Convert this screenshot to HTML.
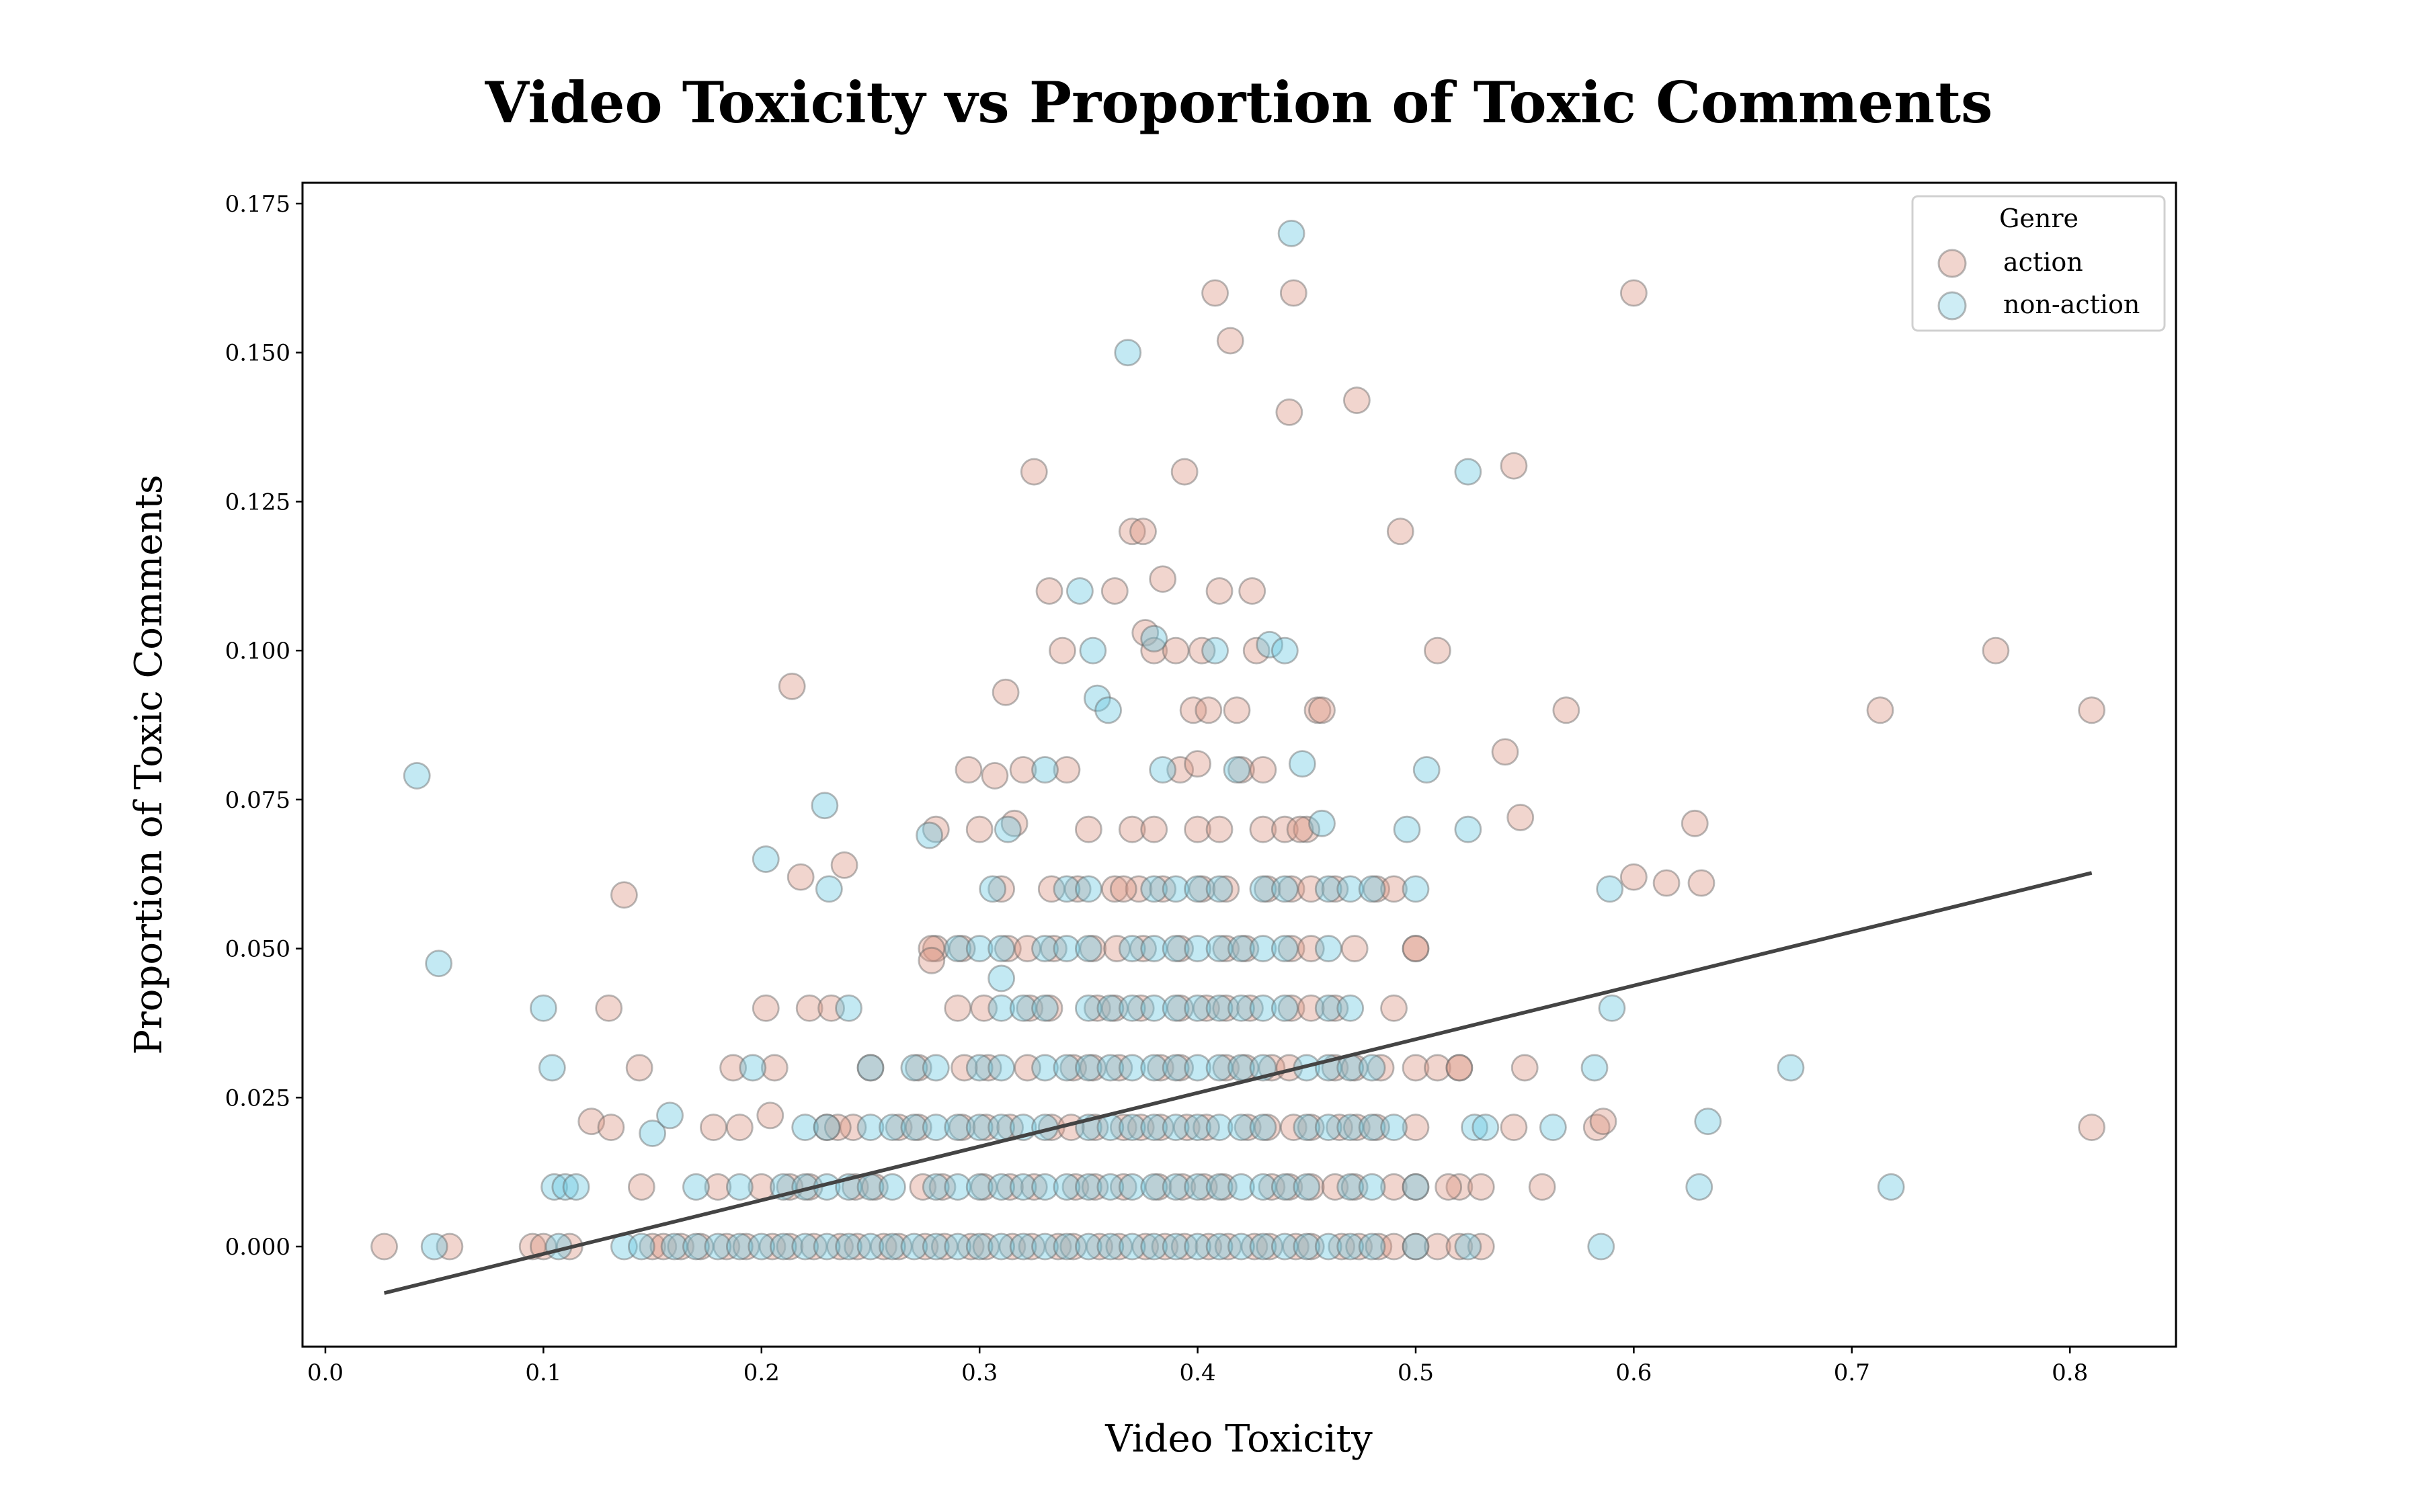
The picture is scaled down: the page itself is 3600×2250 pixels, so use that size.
<!DOCTYPE html>
<html><head><meta charset="utf-8">
<style>
html,body{margin:0;padding:0;background:#fff;}
svg{display:block;font-family:"DejaVu Serif","Liberation Serif",serif;}
</style></head>
<body>
<svg id="chart" width="3600" height="2250" viewBox="0 0 3600 2250" xmlns="http://www.w3.org/2000/svg">
<rect x="0" y="0" width="3600" height="2250" fill="#fff"/>
<text x="1843" y="182" text-anchor="middle" font-size="84" font-weight="bold">Video Toxicity vs Proportion of Toxic Comments</text>
<g id="marks"></g>
<g id="axes"></g>
<text x="1843" y="2160" text-anchor="middle" font-size="56">Video Toxicity</text>
<text transform="translate(240,1138) rotate(-90)" text-anchor="middle" font-size="56">Proportion of Toxic Comments</text>
<g>
<rect x="2845" y="292" width="375" height="200" rx="8" fill="#fff" stroke="#d0d0d0" stroke-width="3"/>
<text x="3033" y="338" text-anchor="middle" font-size="38">Genre</text>
<circle cx="2904" cy="392" r="20" fill="#dd9585" fill-opacity="0.4" stroke="#666" stroke-opacity="0.45" stroke-width="3"/>
<text x="2980" y="403" font-size="38">action</text>
<circle cx="2904" cy="455" r="20" fill="#7fd0e4" fill-opacity="0.38" stroke="#666" stroke-opacity="0.45" stroke-width="3"/>
<text x="2980" y="466" font-size="38">non-action</text>
</g>
</svg>
<script>
const xTicks = [0.0,0.1,0.2,0.3,0.4,0.5,0.6,0.7,0.8];
const xTickLabels = ["0.0","0.1","0.2","0.3","0.4","0.5","0.6","0.7","0.8"];
const yTicks = [0,0.025,0.05,0.075,0.1,0.125,0.15,0.175];
const yTickLabels = ["0.000","0.025","0.050","0.075","0.100","0.125","0.150","0.175"];
const bandLevels = [0,0.01,0.02,0.03,0.04,0.05,0.06,0.07];
const actionBandX = [
 [0.15,0.155,0.163,0.172,0.184,0.193,0.205,0.213,0.224,0.236,0.244,0.256,0.263,0.275,0.284,0.296,0.303,0.315,0.324,0.336,0.343,0.355,0.364,0.376,0.385,0.394,0.405,0.414,0.426,0.433,0.445,0.452,0.466,0.474,0.483,0.49,0.5,0.51,0.52,0.53],
 [0.18,0.2,0.213,0.222,0.243,0.252,0.274,0.283,0.302,0.314,0.325,0.344,0.353,0.366,0.382,0.393,0.403,0.412,0.434,0.442,0.452,0.463,0.472,0.49,0.5,0.52],
 [0.23,0.242,0.263,0.272,0.292,0.303,0.314,0.333,0.342,0.353,0.366,0.374,0.383,0.395,0.404,0.423,0.432,0.444,0.452,0.465,0.473,0.482,0.5],
 [0.25,0.272,0.293,0.304,0.322,0.343,0.352,0.364,0.383,0.392,0.413,0.422,0.434,0.442,0.463,0.472,0.484,0.5,0.51,0.52],
 [0.29,0.302,0.323,0.332,0.354,0.362,0.374,0.392,0.404,0.413,0.424,0.443,0.452,0.463],
 [0.28,0.292,0.313,0.322,0.334,0.352,0.363,0.375,0.392,0.413,0.422,0.443,0.452,0.472,0.5],
 [0.333,0.345,0.362,0.373,0.384,0.402,0.413,0.432,0.443,0.452,0.463,0.482,0.49],
 [0.37,0.38,0.4,0.41,0.43,0.44,0.45]
];
const nonActionBandX = [
 [0.137,0.145,0.16,0.17,0.18,0.19,0.2,0.21,0.22,0.23,0.24,0.25,0.26,0.27,0.28,0.29,0.3,0.31,0.32,0.33,0.34,0.35,0.36,0.37,0.38,0.39,0.4,0.41,0.42,0.43,0.44,0.45,0.46,0.47,0.48,0.5],
 [0.17,0.19,0.21,0.22,0.23,0.24,0.25,0.26,0.28,0.29,0.3,0.31,0.32,0.33,0.34,0.35,0.36,0.37,0.38,0.39,0.4,0.41,0.42,0.43,0.44,0.45,0.47,0.48,0.5],
 [0.22,0.23,0.25,0.26,0.27,0.28,0.29,0.3,0.31,0.32,0.33,0.35,0.36,0.37,0.38,0.39,0.4,0.41,0.42,0.43,0.45,0.46,0.47,0.48,0.49],
 [0.25,0.27,0.28,0.3,0.31,0.33,0.34,0.35,0.36,0.37,0.38,0.39,0.4,0.41,0.42,0.43,0.45,0.46,0.47,0.48],
 [0.31,0.32,0.33,0.35,0.36,0.37,0.38,0.39,0.4,0.41,0.42,0.43,0.44,0.46,0.47],
 [0.29,0.3,0.31,0.33,0.34,0.35,0.37,0.38,0.39,0.4,0.41,0.42,0.43,0.44,0.46],
 [0.34,0.35,0.38,0.39,0.4,0.41,0.43,0.44,0.46,0.47,0.48],
 []
];
const actionX = [0.027,0.057,0.095,0.1,0.112,0.137,0.13,0.122,0.131,0.144,0.145,0.178,0.187,0.19,0.202,0.204,0.206,0.214,0.218,0.222,0.232,0.238,0.235,0.278,0.28,0.278,0.295,0.3,0.307,0.31,0.312,0.316,0.32,0.325,0.332,0.338,0.34,0.35,0.362,0.366,0.37,0.375,0.376,0.38,0.384,0.39,0.392,0.394,0.398,0.4,0.402,0.405,0.408,0.41,0.415,0.418,0.42,0.425,0.427,0.43,0.442,0.444,0.447,0.455,0.457,0.473,0.49,0.493,0.5,0.51,0.52,0.515,0.53,0.541,0.545,0.548,0.55,0.545,0.558,0.569,0.583,0.586,0.6,0.6,0.615,0.628,0.631,0.713,0.766,0.81,0.81];
const actionY = [0,0,0,0,0,0.059,0.04,0.021,0.02,0.03,0.01,0.02,0.03,0.02,0.04,0.022,0.03,0.094,0.062,0.04,0.04,0.064,0.02,0.05,0.07,0.048,0.08,0.07,0.079,0.06,0.093,0.071,0.08,0.13,0.11,0.1,0.08,0.07,0.11,0.06,0.12,0.12,0.103,0.1,0.112,0.1,0.08,0.13,0.09,0.081,0.1,0.09,0.16,0.11,0.152,0.09,0.08,0.11,0.1,0.08,0.14,0.16,0.07,0.09,0.09,0.142,0.04,0.12,0.05,0.1,0.03,0.01,0.01,0.083,0.131,0.072,0.03,0.02,0.01,0.09,0.02,0.021,0.062,0.16,0.061,0.071,0.061,0.09,0.1,0.09,0.02];
const nonActionX = [0.042,0.052,0.05,0.1,0.104,0.105,0.11,0.115,0.107,0.15,0.158,0.202,0.196,0.229,0.231,0.24,0.277,0.306,0.31,0.313,0.33,0.346,0.352,0.354,0.359,0.368,0.38,0.384,0.408,0.418,0.433,0.44,0.443,0.448,0.457,0.496,0.5,0.505,0.524,0.524,0.527,0.532,0.524,0.563,0.582,0.585,0.589,0.59,0.63,0.634,0.672,0.718];
const nonActionY = [0.079,0.0475,0,0.04,0.03,0.01,0.01,0.01,0,0.019,0.022,0.065,0.03,0.074,0.06,0.04,0.069,0.06,0.045,0.07,0.08,0.11,0.1,0.092,0.09,0.15,0.102,0.08,0.1,0.08,0.101,0.1,0.17,0.081,0.071,0.07,0.06,0.08,0.13,0.07,0.02,0.02,0,0.02,0.03,0,0.06,0.04,0.01,0.021,0.03,0.01];
const trendX = [0.027,0.81];
const trendY = [-0.0078,0.0627];

const NS = "http://www.w3.org/2000/svg";
const X0 = 450, X1 = 3237, Y0 = 272, Y1 = 2004;
function sx(v){ return 484 + v * 3244; }
function sy(v){ return 1855 - v * (1552/0.175); }
const marks = document.getElementById('marks');
const axes = document.getElementById('axes');
function mk(tag, attrs, parent){
  const e = document.createElementNS(NS, tag);
  for (const k in attrs) e.setAttribute(k, attrs[k]);
  parent.appendChild(e);
  return e;
}
function dot(x, y, fill, op, name){
  const c = mk('circle', {cx: sx(x), cy: sy(y), r: 19, fill: fill, 'fill-opacity': op, stroke: '#666', 'stroke-opacity': 0.45, 'stroke-width': 2.8}, marks);
  
  
}
bandLevels.forEach((lv, i) => { actionBandX[i].forEach(x => dot(x, lv, '#dd9585', 0.4, 'action-point')); });
actionX.forEach((x, i) => dot(x, actionY[i], '#dd9585', 0.4, 'action-point'));
bandLevels.forEach((lv, i) => { nonActionBandX[i].forEach(x => dot(x, lv, '#6fcbe2', 0.42, 'non-action-point')); });
nonActionX.forEach((x, i) => dot(x, nonActionY[i], '#6fcbe2', 0.42, 'non-action-point'));
const tl = mk('line', {x1: sx(trendX[0]), y1: sy(trendY[0]), x2: sx(trendX[1]), y2: sy(trendY[1]), stroke: '#444', 'stroke-width': 5.5}, marks);


const frame = mk('rect', {x: X0, y: Y0, width: X1 - X0, height: Y1 - Y0, fill: 'none', stroke: '#000', 'stroke-width': 3}, axes);


xTicks.forEach((v, i) => {
  const t = mk('line', {x1: sx(v), y1: Y1, x2: sx(v), y2: Y1 + 10, stroke: '#000', 'stroke-width': 2.5}, axes);
  
  
  const l = mk('text', {x: sx(v), y: Y1 + 50, 'text-anchor': 'middle', 'font-size': 34}, axes);
  l.textContent = xTickLabels[i];
  
  
});
yTicks.forEach((v, i) => {
  const t = mk('line', {x1: X0 - 10, y1: sy(v), x2: X0, y2: sy(v), stroke: '#000', 'stroke-width': 2.5}, axes);
  
  
  const l = mk('text', {x: X0 - 18, y: sy(v) + 12, 'text-anchor': 'end', 'font-size': 34}, axes);
  l.textContent = yTickLabels[i];
  
  
});
</script>
</body></html>
